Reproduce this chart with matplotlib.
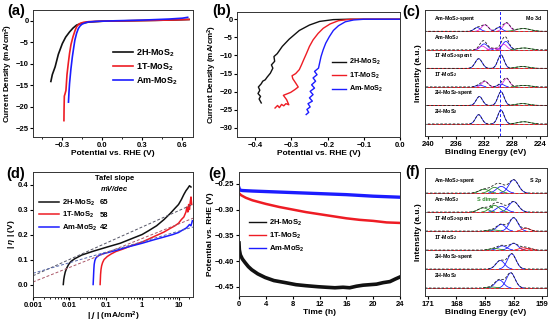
import numpy as np
import matplotlib
matplotlib.use('Agg')
import matplotlib.pyplot as plt

plt.rcParams['font.family'] = ['Liberation Sans', 'DejaVu Sans']
plt.rcParams['font.weight'] = 'bold'
plt.rcParams['font.size'] = 6
plt.rcParams['axes.labelweight'] = 'bold'
plt.rcParams['mathtext.fontset'] = 'custom'
plt.rcParams['mathtext.rm'] = 'Liberation Sans:bold'
plt.rcParams['mathtext.it'] = 'Liberation Sans:italic:bold'
plt.rcParams['mathtext.bf'] = 'Liberation Sans:bold'
plt.rcParams['mathtext.default'] = 'rm'
plt.rcParams['xtick.labelsize'] = 5.5
plt.rcParams['ytick.labelsize'] = 5.5
plt.rcParams['xtick.major.size'] = 2
plt.rcParams['ytick.major.size'] = 2
plt.rcParams['xtick.minor.size'] = 1.2
plt.rcParams['ytick.minor.size'] = 1.2
plt.rcParams['xtick.major.pad'] = 1.5
plt.rcParams['ytick.major.pad'] = 1.2
plt.rcParams['axes.linewidth'] = 0.7
plt.rcParams['axes.edgecolor'] = '#333333'

K, R, B = '#111111', '#ee1c24', '#1c1cff'
MAG, GRN = '#e030e0', '#2e8b2e'
names = ['2H-MoS$_2$', '1T-MoS$_2$', 'Am-MoS$_2$']

################## (a) LSV ##################
a_2h_v = [-0.386, -0.375, -0.354, -0.33, -0.30, -0.275, -0.246, -0.22, -0.193, -0.165, -0.14, -0.10, 0.0, 0.2, 0.4, 0.55, 0.65]
a_2h_j = [-14.1, -12.5, -10.7, -7.8, -5.3, -3.8, -2.6, -1.7, -1.0, -0.7, -0.5, -0.3, -0.1, 0.0, 0.1, 0.2, 0.3]
a_1t_v = [-0.288, -0.287, -0.285, -0.280, -0.273, -0.265, -0.255, -0.246, -0.235, -0.22, -0.205, -0.193, -0.18, -0.166, -0.14, -0.1, 0.0, 0.2, 0.4, 0.55, 0.65]
a_1t_j = [-23.2, -20.5, -17.5, -17.0, -16.2, -12.5, -9.8, -7.6, -5.5, -3.7, -2.3, -1.4, -0.9, -0.6, -0.35, -0.2, -0.1, 0.0, 0.1, 0.2, 0.3]
a_am_v = [-0.254, -0.25, -0.246, -0.236, -0.225, -0.215, -0.206, -0.193, -0.18, -0.167, -0.153, -0.13, -0.11, -0.05, 0.1, 0.3, 0.5, 0.6, 0.64]
a_am_j = [-18.9, -16.5, -14.6, -11.3, -8.4, -6.3, -4.5, -2.9, -1.8, -1.2, -0.8, -0.5, -0.3, -0.15, 0.0, 0.15, 0.4, 0.6, 0.8]

################## (b) LSV, zoom ##################
b_2h_v = [-0.383, -0.389, -0.385, -0.392, -0.387, -0.391, -0.383, -0.379, -0.372, -0.367, -0.358, -0.351, -0.355, -0.346, -0.348, -0.339, -0.325, -0.306, -0.278, -0.25, -0.222, -0.184, -0.146, 0.0]
b_2h_j = [-23.1, -22.0, -21.3, -20.5, -19.6, -18.7, -17.8, -17.1, -16.7, -16.0, -14.9, -13.5, -12.6, -11.6, -10.3, -9.5, -7.5, -5.5, -3.1, -1.6, -0.6, -0.1, 0.0, 0.0]
b_1t_v = [-0.345, -0.338, -0.333, -0.327, -0.321, -0.315, -0.307, -0.313, -0.322, -0.312, -0.302, -0.290, -0.281, -0.288, -0.296, -0.298, -0.288, -0.278, -0.272, -0.266, -0.258, -0.250, -0.240, -0.226, -0.212, -0.193, -0.170, -0.137, 0.0]
b_1t_j = [-24.5, -23.8, -24.4, -23.5, -23.9, -23.3, -23.6, -22.2, -21.0, -20.6, -20.2, -19.4, -18.7, -17.6, -16.4, -15.6, -15.0, -13.9, -12.6, -11.2, -9.4, -7.5, -5.7, -3.9, -2.5, -1.3, -0.4, 0.0, 0.0]
b_am_v = [-0.259, -0.252, -0.257, -0.248, -0.254, -0.242, -0.250, -0.240, -0.248, -0.236, -0.244, -0.233, -0.240, -0.229, -0.236, -0.225, -0.222, -0.218, -0.212, -0.205, -0.195, -0.184, -0.170, -0.151, -0.128, -0.100, 0.0]
b_am_j = [-26.3, -25.7, -24.9, -24.2, -23.3, -22.6, -21.7, -20.8, -19.9, -19.0, -18.1, -17.1, -16.2, -15.3, -14.4, -13.5, -12.1, -10.3, -8.4, -6.6, -4.8, -3.1, -1.8, -0.7, -0.2, 0.0, 0.0]

################## (d) Tafel ##################
d_2h_j = [0.0068, 0.0070, 0.0073, 0.0077, 0.0084, 0.0095, 0.011, 0.014, 0.022, 0.045, 0.11, 0.25, 0.55, 1.0, 1.5, 2.5, 4, 6, 8, 10, 12, 14, 16, 18, 20, 22]
d_2h_eta = [0.0, 0.02, 0.035, 0.05, 0.065, 0.08, 0.092, 0.103, 0.118, 0.133, 0.15, 0.165, 0.185, 0.2, 0.215, 0.235, 0.26, 0.285, 0.305, 0.32, 0.34, 0.36, 0.375, 0.385, 0.395, 0.39]
d_1t_j = [0.070, 0.071, 0.072, 0.074, 0.077, 0.082, 0.09, 0.11, 0.14, 0.19, 0.3, 0.5, 1, 2, 4, 6, 8, 10, 12, 14, 16, 17, 18, 19, 20, 21, 22, 23]
d_1t_eta = [0.0, 0.02, 0.04, 0.06, 0.075, 0.088, 0.1, 0.112, 0.122, 0.132, 0.142, 0.155, 0.17, 0.19, 0.21, 0.225, 0.235, 0.245, 0.26, 0.27, 0.29, 0.31, 0.29, 0.32, 0.3, 0.33, 0.35, 0.32]
d_am_j = [0.045, 0.046, 0.047, 0.048, 0.050, 0.053, 0.057, 0.066, 0.085, 0.115, 0.2, 0.4, 1, 2, 4, 7, 10, 13, 16, 18, 20, 22, 24]
d_am_eta = [0.0, 0.03, 0.06, 0.08, 0.095, 0.105, 0.11, 0.117, 0.123, 0.128, 0.137, 0.15, 0.165, 0.178, 0.19, 0.2, 0.208, 0.218, 0.225, 0.232, 0.24, 0.235, 0.255]
tafel_slope = [65, 58, 42]            # mV/dec
tafel_eta0 = [0.035, 0.01, 0.045]     # eta of fit line at j = 0.001

################## (e) stability ##################
e_2h_t = [0, 0.05, 0.2, 0.5, 0.9, 1.4, 1.9, 2.8, 3.9, 5.2, 6.9, 8.5, 10, 11.8, 13, 14.3, 15.5, 16.5, 17.5, 18.5, 19.5, 20.5, 21.5, 22.5, 23.3, 24]
e_2h_v = [-0.365, -0.378, -0.388, -0.396, -0.403, -0.411, -0.417, -0.425, -0.432, -0.438, -0.442, -0.446, -0.448, -0.450, -0.451, -0.452, -0.451, -0.452, -0.449, -0.447, -0.446, -0.445, -0.442, -0.440, -0.435, -0.431]
e_1t_t = [0, 0.3, 1, 2, 4, 6, 8, 10, 12, 14, 16, 18, 20, 22, 24]
e_1t_v = [-0.268, -0.272, -0.277, -0.282, -0.289, -0.295, -0.300, -0.305, -0.309, -0.313, -0.317, -0.320, -0.322, -0.325, -0.326]
e_am_t = [0, 0.1, 0.5, 2, 4, 8, 12, 16, 20, 24]
e_am_v = [-0.258, -0.262, -0.263, -0.264, -0.265, -0.267, -0.269, -0.271, -0.274, -0.276]

################## (c),(f) XPS fit components: (center eV, height, width eV, colour) ##################
xps_names = ['2H-MoS$_2$', '2H-MoS$_2$-spent', '1T-MoS$_2$', '1T-MoS$_2$-spent', 'Am-MoS$_2$', 'Am-MoS$_2$-spent']
mo3d_peaks = [
    [(229.6, 0.75, 0.45, B), (232.8, 0.50, 0.45, B), (226.3, 0.12, 0.9, GRN)],
    [(229.6, 0.74, 0.45, B), (232.7, 0.48, 0.45, B), (226.5, 0.10, 0.9, GRN)],
    [(228.8, 0.45, 0.45, MAG), (231.9, 0.30, 0.45, MAG), (229.6, 0.15, 0.45, B), (232.7, 0.10, 0.45, B), (226.3, 0.08, 0.9, GRN)],
    [(229.6, 0.73, 0.45, B), (232.8, 0.52, 0.5, B), (226.5, 0.10, 0.9, GRN)],
    [(228.9, 0.45, 0.5, B), (232.0, 0.32, 0.5, B), (229.2, 0.30, 0.45, MAG), (232.3, 0.20, 0.45, MAG), (230.6, 0.08, 0.5, MAG), (226.3, 0.10, 0.9, GRN)],
    [(228.8, 0.45, 0.5, MAG), (231.9, 0.35, 0.5, MAG), (229.9, 0.20, 0.45, B), (233.0, 0.20, 0.45, B), (226.4, 0.15, 1.0, GRN)],
]
s2p_peaks = [
    [(162.3, 0.80, 0.45, B), (163.5, 0.42, 0.45, B), (164.3, 0.05, 0.5, GRN)],
    [(162.2, 0.80, 0.45, B), (163.4, 0.45, 0.45, B)],
    [(162.0, 0.35, 0.45, B), (163.2, 0.22, 0.45, B), (161.0, 0.12, 0.4, R), (160.4, 0.08, 0.4, R), (164.0, 0.08, 0.5, GRN)],
    [(162.0, 0.70, 0.45, B), (163.3, 0.35, 0.45, B), (160.7, 0.15, 0.4, R), (164.2, 0.06, 0.5, GRN)],
    [(162.0, 0.55, 0.5, B), (163.3, 0.30, 0.5, B), (164.0, 0.35, 0.5, GRN), (165.2, 0.22, 0.5, GRN)],
    [(162.0, 0.70, 0.5, B), (163.3, 0.35, 0.5, B), (164.0, 0.30, 0.5, GRN), (165.1, 0.20, 0.5, GRN)],
]

fig = plt.figure(figsize=(5.5, 3.26), dpi=100)
W, H = 550, 326

def add_ax(x0, y0, x1, y1):
    return fig.add_axes([x0 / W, 1 - y1 / H, (x1 - x0) / W, (y1 - y0) / H])

ax_a = add_ax(33, 10, 193, 137)
ax_b = add_ax(237, 12, 400, 137)
ax_c = add_ax(425, 10, 547, 136)
ax_d = add_ax(33, 172, 193, 297)
ax_e = add_ax(239, 172, 400, 296)
ax_f = add_ax(425, 168, 547, 296)

for lab, x, y in [('(a)', 16, 11), ('(b)', 222, 11), ('(c)', 411, 12), ('(d)', 16, 174), ('(e)', 217, 174), ('(f)', 413, 172)]:
    fig.text(x / W, 1 - y / H, lab, fontsize=10.5, fontweight='bold', ha='center', va='center')

# (a)
ax_a.plot(a_2h_v, a_2h_j, color=K, lw=1.2, label=names[0])
ax_a.plot(a_1t_v, a_1t_j, color=R, lw=1.2, label=names[1])
ax_a.plot(a_am_v, a_am_j, color=B, lw=1.2, label=names[2])
ax_a.set_xlim(-0.52, 0.68)
ax_a.set_ylim(-27, 2.5)
ax_a.set_xticks([-0.3, 0.0, 0.3, 0.6])
ax_a.set_xticks([-0.45, -0.15, 0.15, 0.45], minor=True)
ax_a.set_yticks([0, -5, -10, -15, -20, -25])
ax_a.set_xlabel('Potential vs. RHE (V)', labelpad=0.5)
ax_a.set_ylabel('Current Density (mA/cm$^2$)', labelpad=0.5, fontsize=5.8)
ax_a.legend(loc='center left', bbox_to_anchor=(0.5, 0.55), frameon=False, fontsize=6.5,
            handlelength=2.2, handletextpad=0.4, labelspacing=0.25, borderaxespad=0, borderpad=0)

# (b)
ax_b.plot(b_2h_v, b_2h_j, color=K, lw=1.0, label=names[0])
ax_b.plot(b_1t_v, b_1t_j, color=R, lw=1.0, label=names[1])
ax_b.plot(b_am_v, b_am_j, color=B, lw=1.0, label=names[2])
ax_b.set_xlim(-0.45, 0.0)
ax_b.set_ylim(-32.5, 2)
ax_b.set_xticks([-0.4, -0.3, -0.2, -0.1, 0.0])
ax_b.set_xticklabels(['\u22120.4', '\u22120.3', '\u22120.2', '\u22120.1', '0.0'])
ax_b.set_yticks([0, -5, -10, -15, -20, -25, -30])
ax_b.set_xlabel('Potential vs. RHE (V)', labelpad=0.5)
ax_b.set_ylabel('Current Density (mA/cm$^2$)', labelpad=0.5, fontsize=5.8)
ax_b.legend(loc='center left', bbox_to_anchor=(0.58, 0.49), frameon=False, fontsize=5.2,
            handlelength=2.0, handletextpad=0.4, labelspacing=0.45, borderaxespad=0, borderpad=0)

# (d)
ax_d.plot(d_2h_j, d_2h_eta, color=K, lw=1.1, label=names[0])
ax_d.plot(d_1t_j, d_1t_eta, color=R, lw=1.1, label=names[1])
ax_d.plot(d_am_j, d_am_eta, color=B, lw=1.1, label=names[2])
ax_d.set_xscale('log')
ax_d.set_xlim(0.001, 25)
fit_j = np.array([0.001, 25])
for s, e0, c in zip(tafel_slope, tafel_eta0, ['#555566', '#aa5566', '#5566aa']):
    ax_d.plot(fit_j, e0 + s / 1000 * (np.log10(fit_j) + 3), ls=(0, (3, 2)), color=c, lw=0.7)
ax_d.set_ylim(-0.05, 0.45)
ax_d.set_yticks([0.0, 0.1, 0.2, 0.3, 0.4])
ax_d.set_xticks([0.001, 0.01, 0.1, 1, 10])
ax_d.set_xticklabels(['0.001', '0.01', '0.1', '1', '10'])
ax_d.set_xlabel('| $\\mathit{j}$ | (mA/cm$^2$)', labelpad=0.5)
ax_d.set_ylabel('| $\\mathit{\\eta}$ | (V)', labelpad=0.5)
ax_d.legend(loc='center left', bbox_to_anchor=(0.04, 0.655), frameon=False, fontsize=5.5,
            handlelength=2.6, handletextpad=0.4, labelspacing=0.3, borderaxespad=0, borderpad=0)
ax_d.text(0.51, 0.944, 'Tafel slope', transform=ax_d.transAxes, ha='center', va='center', fontsize=5.5)
ax_d.text(0.51, 0.856, 'mV/dec', transform=ax_d.transAxes, ha='center', va='center', fontsize=5.5, style='italic')
for i, s in enumerate(tafel_slope):
    ax_d.text(0.42, 0.752 - i * 0.1, str(s), transform=ax_d.transAxes, ha='left', va='center', fontsize=5.5)

# (e)
ax_e.plot(e_2h_t, e_2h_v, color=K, lw=2.6, label=names[0])
ax_e.plot(e_1t_t, e_1t_v, color=R, lw=1.8, label=names[1])
ax_e.plot(e_am_t, e_am_v, color=B, lw=2.4, label=names[2])
ax_e.set_xlim(0, 24)
ax_e.set_ylim(-0.468, -0.227)
ax_e.set_xticks([0, 4, 8, 12, 16, 20, 24])
ax_e.set_yticks([-0.25, -0.30, -0.35, -0.40, -0.45])
ax_e.set_xlabel('Time (h)', labelpad=0.5)
ax_e.set_ylabel('Potential vs. RHE (V)', labelpad=0.5)
leg = ax_e.legend(loc='center left', bbox_to_anchor=(0.065, 0.485), frameon=False, fontsize=5.5,
                  handlelength=2.2, handletextpad=0.4, labelspacing=0.35, borderaxespad=0, borderpad=0)
for h in leg.legend_handles:
    h.set_linewidth(1.0)

# (c), (f) XPS
def gauss(x, c, h, w):
    return h * np.exp(-0.5 * ((x - c) / w) ** 2)

def draw_xps(ax, peaks, lims, base0, ytop, ticks, title):
    x = np.linspace(lims[1], lims[0], 400)
    span = lims[0] - lims[1]
    for i, comps in enumerate(peaks):
        base = base0 + i
        total = np.zeros_like(x)
        for c, h, w, col in comps:
            g = gauss(x, c, h, w)
            total += g
            m = g > 0.01
            ax.plot(x[m], base + g[m], color=col, lw=0.6)
        ax.plot(x, np.full_like(x, base), color='#444444', lw=0.5)
        ax.plot(x, np.full_like(x, base), color=R, lw=0.7, ls=(0, (3, 2)))
        ax.plot(x, base + total, color='#222222', lw=0.6, ls=(0, (3, 2)))
        ax.text(lims[0] - 0.07 * span, base + 0.68, xps_names[i], fontsize=3.8, ha='left', va='center')
    ax.text(lims[1] + 0.05 * span, base0 + 5.68, title, fontsize=3.8, ha='right', va='center')
    ax.set_xlim(lims)
    ax.set_ylim(0, ytop)
    ax.set_yticks([])
    ax.set_xticks(ticks)
    ax.set_xlabel('Binding Energy (eV)', labelpad=0.5)
    ax.set_ylabel('Intensity (a.u.)', labelpad=2)

draw_xps(ax_c, mo3d_peaks, (240.5, 223.0), 0.65, 6.8, [240, 236, 232, 228, 224], 'Mo 3d')
ax_c.set_xticks([238, 234, 230, 226], minor=True)
ax_c.axvline(229.7, color=B, lw=0.7, ls=(0, (3, 2)))

draw_xps(ax_f, s2p_peaks, (171.3, 158.5), 0.42, 6.74, [171, 168, 165, 162, 159], 'S 2p')
ax_f.annotate('S dimer', xy=(164.2, 4.6), xytext=(165.8, 5.1), color=GRN, fontsize=4,
              ha='left', va='center', arrowprops=dict(arrowstyle='->', color=GRN, lw=0.6))

fig.savefig('out.png', dpi=100)
